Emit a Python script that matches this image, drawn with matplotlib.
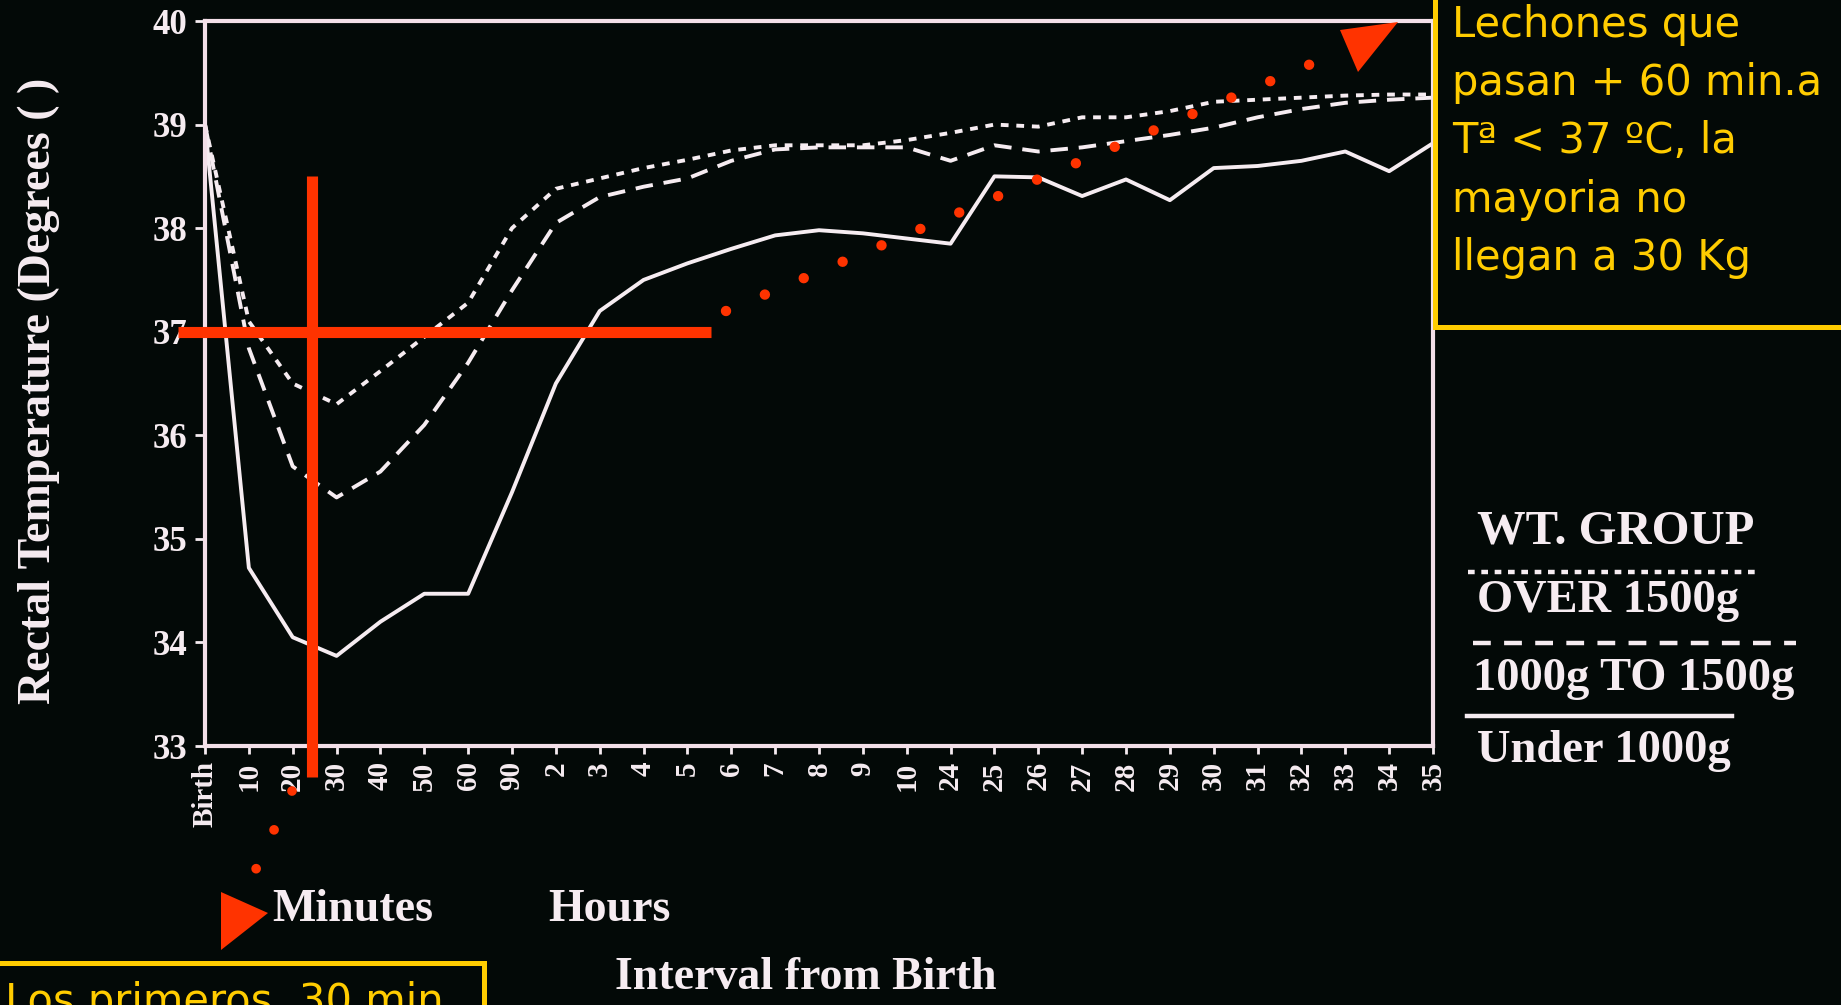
import numpy as np
import matplotlib.pyplot as plt
from matplotlib.patches import Rectangle, Polygon

# x categories (minutes, then hours)
ticks = ["Birth", "10", "20", "30", "40", "50", "60", "90",
         "2", "3", "4", "5", "6", "7", "8", "9", "10",
         "24", "25", "26", "27", "28", "29", "30", "31", "32", "33", "34", "35"]

# rectal temperature per weight group
over_1500 = [39.0, 37.1, 36.5, 36.3, 36.62, 36.95, 37.28, 38.0, 38.38, 38.48,
             38.58, 38.66, 38.75, 38.8, 38.8, 38.8, 38.85, 38.92, 39.0, 38.98,
             39.07, 39.07, 39.13, 39.22, 39.24, 39.26, 39.28, 39.29, 39.29]
from_1000_to_1500 = [39.0, 36.84, 35.7, 35.4, 35.65, 36.1, 36.7, 37.4, 38.05, 38.3,
                     38.4, 38.48, 38.65, 38.76, 38.78, 38.78, 38.78, 38.65, 38.8, 38.74,
                     38.78, 38.84, 38.9, 38.97, 39.07, 39.15, 39.21, 39.24, 39.26]
under_1000 = [39.0, 34.72, 34.05, 33.87, 34.2, 34.47, 34.47, 35.45, 36.5, 37.2,
              37.5, 37.66, 37.8, 37.93, 37.98, 37.95, 37.9, 37.85, 38.5, 38.49,
              38.31, 38.47, 38.27, 38.58, 38.6, 38.65, 38.74, 38.55, 38.82]

labels = ["OVER 1500g", "1000g TO 1500g", "Under 1000g"]
limit_temp = 37

bg = "#030907"
fg = "#f6ecf1"
red = "#ff3300"
yellow = "#ffcc00"
serif = "Liberation Serif"

W, H = 1841, 1005
fig = plt.figure(figsize=(W / 100, H / 100), dpi=100, facecolor=bg)
ax = fig.add_axes([205 / W, 1 - 746 / H, (1433 - 205) / W, (746 - 21) / H])
ax.set_facecolor(bg)

x = np.arange(len(ticks))
styles = [(0, (2, 2)), (0, (4.5, 2.8)), "-"]
for ys, ls in zip([over_1500, from_1000_to_1500, under_1000], styles):
    ax.plot(x, ys, color=fg, lw=2.8, ls=ls)

ax.set_xlim(0, len(ticks) - 1)
ax.set_ylim(33, 40)
ax.set_xticks(x)
ax.set_xticklabels(ticks, rotation=90, fontsize=21, fontweight="bold",
                   family=serif, color=fg)
ax.set_yticks(range(33, 41))
ax.set_yticklabels([str(v) for v in range(33, 41)], fontsize=25,
                   fontweight="bold", family=serif, color=fg)
ax.tick_params(axis="x", length=6, width=2, color=fg, pad=5)
ax.tick_params(axis="y", length=7, width=2, color=fg, pad=6)
for s in ax.spines.values():
    s.set_color("#f3dfe8")
    s.set_linewidth(3)

ax.set_ylabel("Rectal Temperature (Degrees ( )", fontsize=33, fontweight="bold",
              family=serif, color=fg)
ax.yaxis.set_label_coords(-0.135, 0.49)
ax.yaxis.label.set_va("center")
ax.set_xlabel("Interval from Birth", fontsize=33, fontweight="bold",
              family=serif, color=fg)
ax.xaxis.set_label_coords(0.489, -0.32)
ax.xaxis.label.set_va("center")

# red 37 degree cross
ax.plot([-0.61, 11.54], [limit_temp, limit_temp], color=red, lw=8,
        solid_capstyle="butt", clip_on=False, zorder=5)
ax.plot([2.44, 2.44], [38.5, 32.7], color=red, lw=8,
        solid_capstyle="butt", clip_on=False, zorder=5)

# overlay in picture pixels for notes and legend
ov = fig.add_axes([0, 0, 1, 1])
ov.set_xlim(0, W)
ov.set_ylim(H, 0)
ov.axis("off")

ov.text(353, 910, "Minutes", fontsize=33, fontweight="bold", family=serif,
        color=fg, ha="center", va="center")
ov.text(609, 910, "Hours", fontsize=33, fontweight="bold", family=serif,
        color=fg, ha="center", va="center")

# legend
ov.text(1477, 531, "WT. GROUP", fontsize=35, fontweight="bold", family=serif,
        color=fg, va="center")
ov.plot([1468, 1760], [572, 572], color=fg, lw=3.2, ls=(0, (1.5, 1.5)))
ov.plot([1473, 1796], [643, 643], color=fg, lw=3.2, ls=(0, (4, 3)))
ov.plot([1467, 1732], [716, 716], color=fg, lw=3.2)
for lab, yy, xx in zip(labels, [601, 679, 751], [1477, 1473, 1477]):
    ov.text(xx, yy, lab, fontsize=33.5, fontweight="bold", family=serif,
            color=fg, va="center")

# notes
ov.add_patch(Rectangle((1435, -20), 500, 347, fill=False, ec=yellow, lw=3.6))
ov.text(1452, 4, "Lechones que\npasan + 60 min.a\nTª < 37 ºC, la\nmayoria no\nllegan a 30 Kg",
        fontsize=30, family="DejaVu Sans", color=yellow, va="top", ha="left",
        linespacing=1.49)
ov.add_patch(Rectangle((-20, 963), 504, 100, fill=False, ec=yellow, lw=3.6))
ov.text(444, 1014, "Los primeros  30 min", fontsize=30, family="DejaVu Sans",
        color=yellow, ha="right", va="baseline")

ov.plot([726, 1318], [311, 61], color=red, lw=7.5, ls=(0, (0.001, 4.05)),
        dash_capstyle="round")
ov.plot([292, 256], [791, 869], color=red, lw=7, ls=(0, (0.001, 4.4)),
        dash_capstyle="round")
ov.add_patch(Polygon([(1340, 30), (1398, 22), (1358, 72)], closed=True,
                     fc=red, ec="none"))
ov.add_patch(Polygon([(221, 892), (268, 913), (221, 950)], closed=True,
                     fc=red, ec="none"))

fig.savefig("out.png", dpi=100, facecolor=bg)
